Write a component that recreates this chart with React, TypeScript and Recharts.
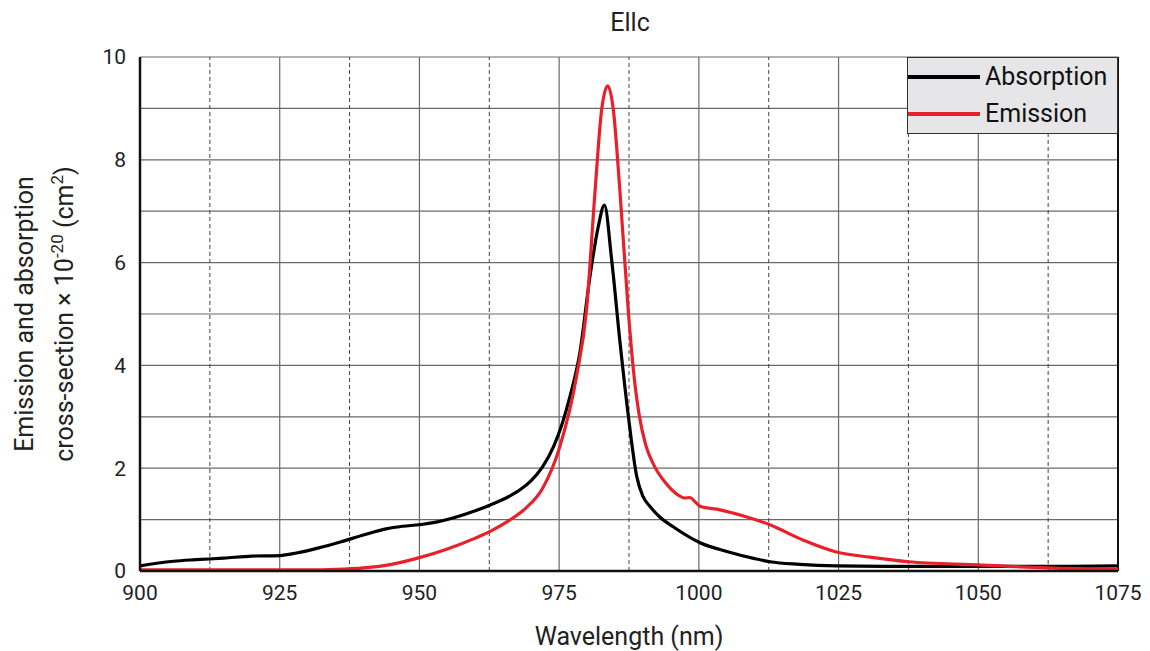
import React from 'react'
import { CartesianGrid, Label, Line, LineChart, ReferenceLine, XAxis, YAxis } from 'recharts'

const absWl = [900, 903, 906, 910, 915, 920, 925, 928, 932, 936, 940, 944, 947, 950, 953, 956, 960, 963, 966, 968, 970, 972, 974, 975.5, 977, 978.7, 980.5, 982, 983.1, 984.4, 985.9, 987.4, 988.9, 990, 991.3, 993, 995.4, 1000.2, 1005, 1010, 1012.7, 1018, 1024.6, 1035, 1050, 1065, 1075]
const absVal = [0.1, 0.15, 0.19, 0.22, 0.25, 0.29, 0.3, 0.35, 0.45, 0.57, 0.7, 0.82, 0.87, 0.9, 0.95, 1.03, 1.17, 1.3, 1.45, 1.58, 1.76, 2.02, 2.42, 2.85, 3.42, 4.24, 5.72, 6.7, 7.12, 6.05, 4.44, 3.0, 1.83, 1.45, 1.25, 1.05, 0.86, 0.55, 0.38, 0.24, 0.18, 0.13, 0.1, 0.09, 0.09, 0.09, 0.1]

const emWl = [900, 910, 920, 930, 935, 940, 945, 950, 955, 960, 963, 966, 969, 972, 975.1, 978.1, 979.9, 981.4, 982.6, 983.7, 984.7, 985.9, 987.4, 988.3, 989.3, 990.5, 992, 994, 996, 997.5, 998.4, 999.3, 1000.2, 1003.8, 1008, 1012.7, 1018.7, 1024.6, 1030.6, 1037.5, 1050, 1062.5, 1075]
const emVal = [0.02, 0.02, 0.02, 0.02, 0.03, 0.06, 0.13, 0.26, 0.43, 0.64, 0.79, 0.98, 1.22, 1.6, 2.41, 3.78, 5.08, 7.35, 8.97, 9.44, 8.97, 7.35, 5.02, 3.9, 3.05, 2.45, 2.05, 1.72, 1.5, 1.42, 1.43, 1.35, 1.26, 1.19, 1.07, 0.9, 0.6, 0.37, 0.27, 0.18, 0.12, 0.06, 0.03]

const xTicks = [900, 925, 950, 975, 1000, 1025, 1050, 1075]
const xMinor = [912.5, 937.5, 962.5, 987.5, 1012.5, 1037.5, 1062.5]
const yTicks = [0, 1, 2, 3, 4, 5, 6, 7, 8, 9, 10]
const legendItems = [{ name: 'Absorption', color: '#000' }, { name: 'Emission', color: '#e8202a' }]

const absData = absWl.map((wl, i) => ({ wl, abs: absVal[i] }))
const emData = emWl.map((wl, i) => ({ wl, em: emVal[i] }))

const font = 'Roboto, "Noto Sans", sans-serif'

const YLabel = (props: any) => {
  const vb = props.viewBox || {}
  const cy = vb.y + vb.height / 2
  return (
    <g transform={`translate(0, ${cy}) rotate(-90)`} fontFamily={font} fontSize={25} fill="#222">
      <text x={0} y={33} textAnchor="middle">Emission and absorption</text>
      <text x={0} y={73} textAnchor="middle">
        cross-section × 10<tspan dy={-10} fontSize={17}>-20</tspan>
        <tspan dy={10}> (cm</tspan>
        <tspan dy={-10} fontSize={17}>2</tspan>
        <tspan dy={10}>)</tspan>
      </text>
    </g>
  )
}

export default function App() {
  return (
    <div style={{ position: 'absolute', left: 0, top: 0, width: 1150, height: 651, background: '#fff' }}>
      <LineChart width={1150} height={651} margin={{ top: 57, right: 32, left: 100, bottom: 40 }}>
        <text x={630} y={31} textAnchor="middle" fontFamily={font} fontSize={25} fill="#222">Ellc</text>
        <CartesianGrid stroke="#6a6a6a" strokeWidth={1.2} />
        {xMinor.map((x) => (
          <ReferenceLine key={x} x={x} stroke="#444" strokeDasharray="4 3" strokeWidth={1} />
        ))}
        <ReferenceLine x={1075} stroke="#111" strokeWidth={2} />
        <XAxis
          dataKey="wl"
          type="number"
          domain={[900, 1075]}
          ticks={xTicks}
          allowDuplicatedCategory={false}
          height={40}
          tickLine={false}
          axisLine={{ stroke: '#111', strokeWidth: 2.5 }}
          tick={{ fontFamily: font, fontSize: 21, fill: '#222' }}
          tickMargin={8}
        >
          <Label value="Wavelength (nm)" position="bottom" offset={16} style={{ fontFamily: font, fontSize: 25, fill: '#222' }} />
        </XAxis>
        <YAxis
          type="number"
          domain={[0, 10]}
          ticks={yTicks}
          width={40}
          tickLine={false}
          axisLine={{ stroke: '#111', strokeWidth: 2.5 }}
          tickFormatter={(v: number) => (v % 2 === 0 ? String(v) : '')}
          tick={{ fontFamily: font, fontSize: 21, fill: '#222' }}
          tickMargin={8}
          label={{ content: YLabel }}
        />
        <Line data={absData} dataKey="abs" name="Absorption" type="monotone" stroke="#000" strokeWidth={3.2} dot={false} isAnimationActive={false} />
        <Line data={emData} dataKey="em" name="Emission" type="monotone" stroke="#e8202a" strokeWidth={3.2} dot={false} isAnimationActive={false} />
      </LineChart>
      <div style={{ position: 'absolute', top: 57, left: 907, width: 209, height: 75, background: '#e6e6e8', border: '1.5px solid #333', fontFamily: font, fontSize: 25, color: '#111' }}>
        {legendItems.map((it) => (
          <div key={it.name} style={{ display: 'flex', alignItems: 'center', height: 37 }}>
            <div style={{ width: 72, height: 4, background: it.color, marginRight: 5 }} />
            <span>{it.name}</span>
          </div>
        ))}
      </div>
    </div>
  )
}
